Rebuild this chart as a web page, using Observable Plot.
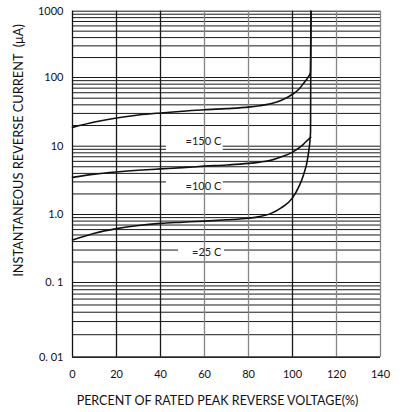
<!DOCTYPE html>
<html>
<head>
<meta charset="utf-8">
<script src="https://cdn.jsdelivr.net/npm/d3@7"></script>
<script src="https://cdn.jsdelivr.net/npm/@observablehq/plot@0.6"></script>
<style>
  html, body { margin: 0; padding: 0; background: #fff; }
</style>
</head>
<body>
<div id="chart"></div>
<script>
// ---- data ----
const xTicks = [0, 20, 40, 60, 80, 100, 120, 140];
const xTickLabels = ["0", "20", "40", "60", "80", "100", "120", "140"];
const yTicks = [0.01, 0.1, 1, 10, 100, 1000];
const yTickLabels = ["0. 01", "0. 1", "1.0", "10", "100", "1000"];

// T = 150 C
const pct150 = [0, 10, 20, 30, 40, 50, 60, 70, 80, 85, 90, 95, 100, 103, 105, 107, 108.1, 108.4];
const ua150  = [18.8, 22.5, 25.8, 28.5, 30.5, 32.3, 34, 35.2, 37, 38.8, 41.5, 46.5, 57, 68, 82, 100, 118, 1000];
// T = 100 C
const pct100 = [0, 10, 20, 30, 40, 50, 60, 70, 80, 85, 90, 95, 100, 104, 106, 108.3];
const ua100  = [3.5, 3.9, 4.2, 4.45, 4.65, 4.85, 5.1, 5.3, 5.6, 5.85, 6.2, 7, 8.2, 10, 11.5, 13.5];
// T = 25 C
const pct25 = [0, 10, 20, 30, 40, 50, 60, 70, 80, 85, 90, 95, 100, 103, 105, 107, 108.2, 108.4];
const ua25  = [0.42, 0.53, 0.62, 0.69, 0.74, 0.77, 0.8, 0.835, 0.88, 0.93, 1.03, 1.26, 1.75, 2.6, 3.8, 7, 16, 1000];

// in-chart temperature labels (data units) and the grid gaps behind them
const labelText = ["=150 C", "=100 C", "=25 C"];
const labelPct  = [59.5, 59.5, 61];
const labelUA   = [11.8, 2.55, 0.275];
const gapPct1 = [42.7, 42.7, 48.2];
const gapPct2 = [68.5, 68.5, 69.1];
const gapUA1  = [8.5, 2.8, 0.28];
const gapUA2  = [11, 3.2, 0.32];

// ---- derived tables ----
const gridY = [];
for (let e = -2; e <= 2; e++) for (let k = 1; k <= 9; k++) gridY.push(+(k * Math.pow(10, e)).toPrecision(3));
gridY.push(1000);
const gridX = xTicks.filter(d => d > 0);
const series = [
  ...pct150.map((p, i) => ({s: "150", p, v: ua150[i]})),
  ...pct100.map((p, i) => ({s: "100", p, v: ua100[i]})),
  ...pct25.map((p, i) => ({s: "25", p, v: ua25[i]}))
];
const labels = labelText.map((t, i) => ({t, p: labelPct[i], v: labelUA[i]}));
const gaps = gapPct1.map((p1, i) => ({p1, p2: gapPct2[i], v1: gapUA1[i], v2: gapUA2[i]}));
const yLab = new Map(yTicks.map((d, i) => [d, yTickLabels[i]]));
const xLab = new Map(xTicks.map((d, i) => [d, xTickLabels[i]]));
const grayX = new Set([60, 80, 120, 140]);

const chart = Plot.plot({
  width: 400,
  height: 412,
  marginLeft: 72,
  marginRight: 20,
  marginTop: 10.7,
  marginBottom: 55.3,
  style: {fontFamily: "Lato, 'Open Sans', sans-serif", fontSize: "11px", background: "#fff", color: "#111"},
  x: {domain: [0, 140]},
  // the printed grid's decades are not evenly spaced: piecewise log scale
  y: {type: "log", domain: yTicks, range: [356.7, 282, 214, 145.7, 77, 10.7]},
  marks: [
    Plot.ruleY(gridY, {stroke: "#1a1a1a", strokeWidth: 1}),
    Plot.rect(gaps, {x1: "p1", x2: "p2", y1: "v1", y2: "v2", fill: "#fff"}),
    Plot.ruleX(gridX, {stroke: d => grayX.has(d) ? "#858585" : "#1a1a1a", strokeWidth: 1.3}),
    Plot.ruleX([0], {stroke: "#111", strokeWidth: 1.3}),
    Plot.ruleY([0.01], {stroke: "#111", strokeWidth: 1.3}),
    Plot.line(series, {x: "p", y: "v", z: "s", stroke: "#111", strokeWidth: 1.6, curve: "monotone-x"}),
    Plot.text(labels, {x: "p", y: "v", text: "t", fontSize: 11, fill: "#222"}),
    Plot.axisX(xTicks, {tickSize: 0, tickPadding: 13, tickFormat: d => xLab.get(d), label: null, fontSize: 11}),
    Plot.axisY(yTicks, {tickSize: 0, tickPadding: 9, tickFormat: d => yLab.get(d), label: null, fontSize: 11}),
    Plot.text(["PERCENT OF RATED PEAK REVERSE VOLTAGE(%)"], {text: d => d, frameAnchor: "bottom", textAnchor: "middle", lineAnchor: "middle", dx: -9, dy: 44, fontSize: 12.5, fill: "#111"}),
    Plot.text(["INSTANTANEOUS REVERSE CURRENT  (μA)"], {text: d => d, frameAnchor: "left", textAnchor: "middle", lineAnchor: "middle", rotate: -90, dx: -54, dy: -33.7, fontSize: 12.8, fill: "#111"})
  ]
});
document.getElementById("chart").appendChild(chart);
</script>
</body>
</html>
